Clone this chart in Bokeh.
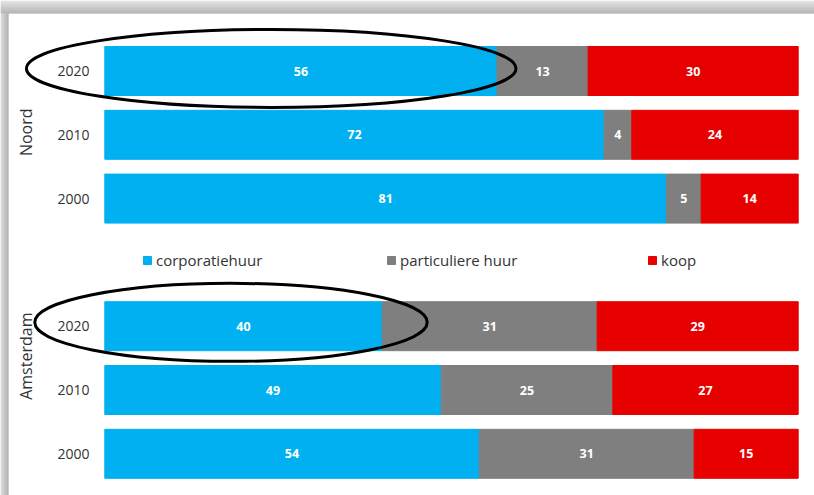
import numpy as np
from bokeh.plotting import figure
from bokeh.models import (ColumnDataSource, Range1d, Legend, LegendItem,
                          BoxAnnotation)
from bokeh.core.properties import value
from bokeh.embed import file_html
from bokeh.resources import INLINE

# ---------------- data ----------------
regions = ["Noord", "Amsterdam"]
years = ["2020", "2010", "2000"]
series = ["corporatiehuur", "particuliere huur", "koop"]

noord_corporatiehuur = [56, 72, 81]
noord_particuliere_huur = [13, 4, 5]
noord_koop = [30, 24, 14]

amsterdam_corporatiehuur = [40, 49, 54]
amsterdam_particuliere_huur = [31, 25, 31]
amsterdam_koop = [29, 27, 15]

# ---------------- styles ----------------
colors = ["#00B0F0", "#7F7F7F", "#E60000"]
FONT = "Open Sans"
W, H = 814, 495

# ---------------- table ----------------
# slot = vertical row position (one empty slot between the two regions)
rows = []
for gi, (reg, corp, part, koop) in enumerate([
    ("Noord", noord_corporatiehuur, noord_particuliere_huur, noord_koop),
    ("Amsterdam", amsterdam_corporatiehuur, amsterdam_particuliere_huur, amsterdam_koop),
]):
    for yi, (yr, c, pa, k) in enumerate(zip(years, corp, part, koop)):
        rows.append((gi * 4 + yi, reg, yr, c, pa, k))

slot = np.array([r[0] for r in rows], dtype=float)
corp = np.array([r[3] for r in rows], dtype=float)
part = np.array([r[4] for r in rows], dtype=float)
koop = np.array([r[5] for r in rows], dtype=float)
tot = corp + part + koop
corp_s = corp / tot * 100
part_s = part / tot * 100
koop_s = koop / tot * 100

src = ColumnDataSource(dict(
    y=slot, year=[r[2] for r in rows],
    corp_s=corp_s, part_s=part_s, koop_s=koop_s,
    corp_c=corp_s / 2, part_c=corp_s + part_s / 2, koop_c=corp_s + part_s + koop_s / 2,
    corp_t=[str(int(v)) for v in corp], part_t=[str(int(v)) for v in part],
    koop_t=[str(int(v)) for v in koop],
))

# ---------------- figure ----------------
px_x = 6.934          # pixels per percent
px_y = 63.8           # pixels per row slot
top_px = 70.5         # pixel centre of first row
x_range = Range1d(-104.3 / px_x, 100 + (W - 797.7) / px_x)
y_range = Range1d(start=(H - top_px) / px_y, end=-top_px / px_y)   # inverted

p = figure(width=W, height=H, x_range=x_range, y_range=y_range,
           output_backend="svg", toolbar_location=None,
           x_axis_location=None, y_axis_location=None,
           min_border_left=0, min_border_right=0, min_border_bottom=0,
           min_border_top=0)
p.outline_line_color = None
p.grid.grid_line_color = None
p.background_fill_color = "white"
p.border_fill_color = "white"

rs = p.hbar_stack(["corp_s", "part_s", "koop_s"], y="y", height=0.768,
                  color=colors, source=src)

for xc, tc in [("corp_c", "corp_t"), ("part_c", "part_t"), ("koop_c", "koop_t")]:
    p.text(x=xc, y="y", text=tc, source=src, text_align="center",
           text_baseline="middle", text_color="white",
           text_font=value(FONT), text_font_style="bold", text_font_size="12.5px")

# year labels
p.text(x=-2.2, y="y", text="year", source=src, text_align="right",
       text_baseline="middle", text_color="#333333",
       text_font=value(FONT), text_font_size="14px")

# region labels (vertical)
gsrc = ColumnDataSource(dict(y=[0.96, 4.47], t=regions))
p.text(x=-11.3, y="y", text="t", source=gsrc, angle=np.pi / 2,
       text_align="center", text_baseline="middle", text_color="#333333",
       text_font=value(FONT), text_font_size="16px")

# highlight ellipses around 2020 corporatiehuur
esrc = ColumnDataSource(dict(y=[-0.04, 3.94], x=[24.0, 18.2], w=[70.6, 56.6]))
p.ellipse(x="x", y="y", width="w", height=78, height_units="screen",
          source=esrc, fill_color=None, line_color="black", line_width=3)

# legends (centred on the empty slot between the regions)
leg_x = [142, 386, 647]
leg_bottom = H - (top_px + 3 * px_y) - 8
for r, lab, lx in zip(rs, series, leg_x):
    leg = Legend(items=[LegendItem(label=lab, renderers=[r])],
                 location=(lx, leg_bottom), orientation="horizontal",
                 padding=0, margin=0, spacing=0, glyph_width=10, glyph_height=10,
                 label_standoff=4, label_text_font=FONT,
                 label_text_font_size="15px", label_text_color="#333333",
                 border_line_color=None, background_fill_alpha=0)
    p.add_layout(leg, "center")

# card shadow (top and left)
for i in range(13):
    g = int(round(0xDC + (0x9E - 0xDC) * i / 12))
    p.add_layout(BoxAnnotation(left=0, right=W, bottom=H - i - 1, top=H - i,
                               left_units="screen", right_units="screen",
                               top_units="screen", bottom_units="screen",
                               fill_color="#%02x%02x%02x" % (g, g, g),
                               fill_alpha=1, line_color=None))
for i in range(8):
    g = int(round(0xD0 + (0x9C - 0xD0) * i / 7))
    p.add_layout(BoxAnnotation(left=i, right=i + 1, bottom=0, top=H - 13,
                               left_units="screen", right_units="screen",
                               top_units="screen", bottom_units="screen",
                               fill_color="#%02x%02x%02x" % (g, g, g),
                               fill_alpha=1, line_color=None))

open("out.html", "w").write(file_html(p, INLINE))
